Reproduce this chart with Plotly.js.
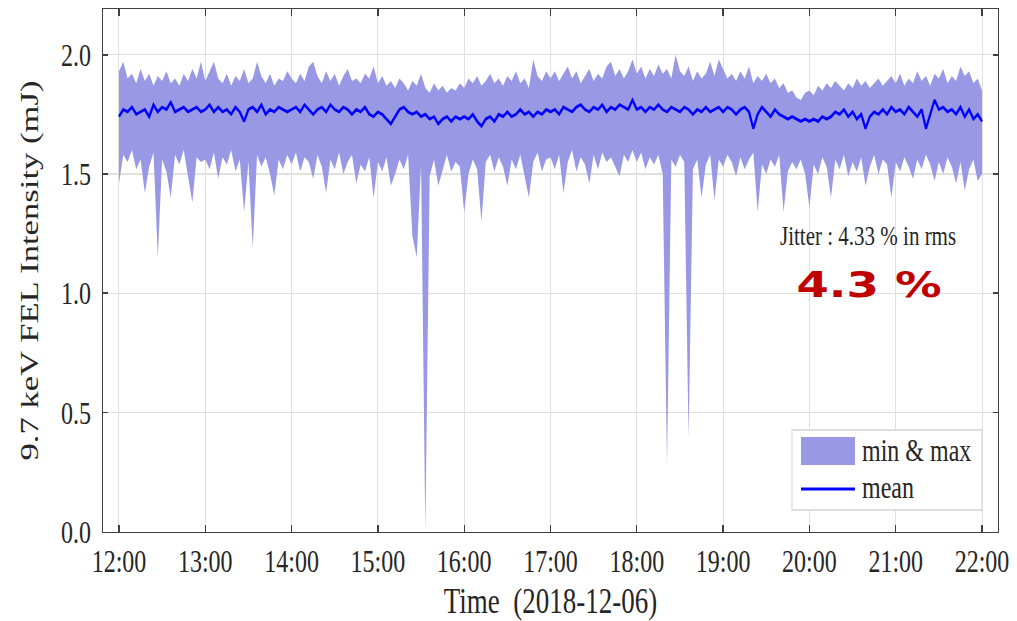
<!DOCTYPE html>
<html>
<head>
<meta charset="utf-8">
<script src="https://cdn.plot.ly/plotly-3.0.1.min.js"></script>
<style>
html,body{margin:0;padding:0;background:#fff;overflow:hidden;}
#wrap{width:1017px;height:621px;overflow:hidden;}
#chart{width:1017px;height:466px;transform:scale(1,1.33262);transform-origin:0 0;}
g.annotation[data-index="1"] text.annotation-text{transform-box:fill-box;transform-origin:center;transform:scale(1.37,0.8);}
</style>
</head>
<body>
<div id="wrap"><div id="chart"></div></div>
<script>
// Sampling grid: 2018-12-06 12:00 to 22:00, one sample every 3 minutes (201 samples)
const startTime = "2018-12-06T12:00:00";
const stepMinutes = 3;

// Maximum intensity per interval (mJ)
const maxV = [
1.93,1.97,1.90,1.92,1.88,1.94,1.89,1.92,1.87,1.91,1.89,1.93,1.88,1.90,1.87,1.92,1.89,1.94,1.90,1.97,
1.89,1.93,1.97,1.90,1.88,1.92,1.87,1.91,1.89,1.94,1.88,1.90,1.97,1.91,1.88,1.92,1.87,1.90,1.89,1.93,
1.90,1.88,1.92,1.89,1.95,1.97,1.91,1.88,1.93,1.89,1.92,1.87,1.91,1.94,1.89,1.90,1.88,1.92,1.90,1.95,
1.88,1.91,1.87,1.89,1.86,1.90,1.88,1.85,1.89,1.87,1.92,1.86,1.84,1.88,1.85,1.87,1.84,1.86,1.85,1.88,
1.86,1.90,1.88,1.91,1.87,1.89,1.92,1.88,1.90,1.87,1.91,1.89,1.93,1.88,1.90,1.86,1.98,1.91,1.89,1.93,
1.90,1.93,1.89,1.92,1.95,1.90,1.93,1.88,1.91,1.94,1.89,1.92,1.90,1.95,1.97,1.91,1.94,1.90,1.93,1.98,
1.92,1.95,1.90,1.94,1.91,1.96,1.92,1.94,1.90,2.00,1.93,1.91,1.95,1.89,1.93,1.90,1.92,1.97,1.91,1.98,
1.94,1.90,1.92,1.89,1.93,1.90,1.95,1.88,1.91,1.89,1.92,1.88,1.90,1.86,1.88,1.84,1.85,1.82,1.81,1.84,
1.85,1.83,1.87,1.85,1.88,1.86,1.89,1.87,1.85,1.88,1.86,1.90,1.87,1.89,1.86,1.88,1.90,1.87,1.89,1.91,
1.88,1.92,1.87,1.90,1.88,1.93,1.89,1.91,1.87,1.92,1.90,1.94,1.88,1.91,1.89,1.95,1.91,1.93,1.88,1.90,
1.85];

// Mean intensity per interval (mJ)
const meanV = [
1.74,1.77,1.76,1.78,1.75,1.76,1.77,1.74,1.79,1.76,1.78,1.77,1.80,1.76,1.77,1.78,1.76,1.77,1.78,1.76,
1.77,1.79,1.76,1.78,1.76,1.77,1.75,1.78,1.76,1.72,1.77,1.78,1.76,1.79,1.75,1.77,1.76,1.78,1.77,1.76,
1.77,1.78,1.76,1.79,1.77,1.75,1.77,1.78,1.76,1.79,1.77,1.76,1.78,1.77,1.75,1.77,1.76,1.78,1.75,1.74,
1.76,1.75,1.73,1.71,1.74,1.77,1.78,1.76,1.75,1.76,1.74,1.75,1.73,1.74,1.71,1.73,1.74,1.72,1.74,1.73,
1.74,1.73,1.75,1.72,1.70,1.73,1.74,1.72,1.75,1.74,1.76,1.74,1.75,1.77,1.75,1.76,1.74,1.76,1.75,1.77,
1.76,1.77,1.75,1.78,1.77,1.76,1.78,1.79,1.77,1.76,1.78,1.77,1.79,1.76,1.78,1.77,1.79,1.78,1.77,1.81,
1.77,1.78,1.76,1.78,1.77,1.79,1.77,1.76,1.78,1.77,1.76,1.78,1.77,1.75,1.77,1.76,1.78,1.76,1.77,1.78,
1.76,1.78,1.77,1.75,1.77,1.78,1.76,1.69,1.75,1.78,1.76,1.74,1.77,1.75,1.74,1.73,1.74,1.73,1.72,1.73,
1.72,1.73,1.72,1.74,1.73,1.74,1.76,1.75,1.77,1.74,1.76,1.73,1.75,1.69,1.74,1.76,1.75,1.77,1.75,1.78,
1.76,1.77,1.75,1.78,1.76,1.74,1.77,1.69,1.75,1.81,1.77,1.78,1.76,1.77,1.75,1.78,1.74,1.77,1.73,1.75,
1.72];

// Minimum intensity per interval (mJ)
const minV = [
1.46,1.58,1.55,1.60,1.52,1.56,1.42,1.53,1.59,1.15,1.56,1.51,1.40,1.58,1.54,1.60,1.49,1.38,1.57,1.55,
1.56,1.52,1.59,1.48,1.57,1.54,1.60,1.51,1.56,1.34,1.55,1.19,1.58,1.53,1.57,1.50,1.41,1.56,1.52,1.58,
1.54,1.59,1.51,1.57,1.55,1.48,1.58,1.53,1.42,1.56,1.52,1.59,1.50,1.55,1.58,1.46,1.54,1.51,1.57,1.40,
1.55,1.51,1.57,1.45,1.50,1.56,1.52,1.58,1.24,1.15,1.54,0.00,1.49,1.56,1.45,1.52,1.58,1.51,1.55,1.53,
1.34,1.50,1.56,1.52,1.30,1.55,1.58,1.51,1.57,1.53,1.45,1.56,1.52,1.58,1.49,1.40,1.55,1.59,1.51,1.56,
1.57,1.52,1.58,1.42,1.55,1.60,1.51,1.57,1.54,1.46,1.58,1.52,1.59,1.55,1.57,1.53,1.49,1.58,1.55,1.60,
1.55,1.59,1.52,1.57,1.54,1.58,1.50,0.28,1.56,1.53,1.58,1.55,0.39,1.52,1.56,1.40,1.54,1.58,1.39,1.56,
1.53,1.58,1.55,1.49,1.57,1.52,1.56,1.59,1.34,1.54,1.50,1.56,1.53,1.58,1.34,1.51,1.55,1.52,1.56,1.50,
1.36,1.54,1.50,1.57,1.53,1.40,1.56,1.52,1.58,1.49,1.55,1.51,1.57,1.45,1.53,1.58,1.50,1.56,1.54,1.40,
1.55,1.51,1.57,1.53,1.48,1.56,1.52,1.58,1.54,1.47,1.55,1.50,1.57,1.53,1.46,1.55,1.43,1.52,1.56,1.47,
1.50];

const xTickVals = ["12:00","13:00","14:00","15:00","16:00","17:00","18:00","19:00","20:00","21:00","22:00"];
const yTickVals = [0, 0.5, 1.0, 1.5, 2.0];
const legendNames = ["min & max", "mean"];
const jitterText = "Jitter : 4.33 % in rms";
const jitterBig = "4.3 %";

function pad(n){return (n<10?"0":"")+n;}
const t0 = new Date(startTime + "Z").getTime();
const times = meanV.map(function(_, i){
  const d = new Date(t0 + i*stepMinutes*60000);
  return "2018-12-06 " + pad(d.getUTCHours()) + ":" + pad(d.getUTCMinutes()) + ":00";
});
const tickv = xTickVals.map(function(s){return "2018-12-06 " + s + ":00";});

const serif = "Liberation Serif, Times New Roman, serif";
const txt = "#262626";
const bandColor = "rgb(152,152,228)";
const meanColor = "rgb(0,0,255)";

const traces = [
  {x: times, y: maxV, type: "scatter", mode: "lines", line: {width: 0, color: bandColor},
   showlegend: false, hoverinfo: "skip"},
  {x: times, y: minV, type: "scatter", mode: "lines", line: {width: 0, color: bandColor},
   fill: "tonexty", fillcolor: bandColor, name: legendNames[0], showlegend: false},
  {x: times, y: meanV, type: "scatter", mode: "lines", line: {width: 2.2, color: meanColor},
   name: legendNames[1], showlegend: false}
];

const axisCommon = {
  showline: true, linecolor: "#404040", linewidth: 1.3, mirror: "ticks",
  ticks: "inside", ticklen: 5, tickwidth: 1.3, tickcolor: "#404040",
  showgrid: true, gridcolor: "#e0e0e0", gridwidth: 1, zeroline: false,
  tickfont: {family: serif, size: 24, color: txt}
};

// legend box (drawn in paper units of the plot area)
const lg = {x0: 0.7698, x1: 0.9821, y0: 0.0416, y1: 0.1947,
            sx0: 0.7799, sx1: 0.8402, sy0: 0.1277, sy1: 0.1813, ly: 0.0818,
            tx: 0.8458, ty0: 0.1545, ty1: 0.0837};

const layout = {
  width: 1017, height: 466,
  margin: {l: 103, r: 19, t: 7, b: 67},
  paper_bgcolor: "#fff", plot_bgcolor: "#fff",
  showlegend: false,
  xaxis: Object.assign({}, axisCommon, {
    type: "date",
    range: ["2018-12-06 11:48:54", "2018-12-06 22:11:06"],
    tickvals: tickv, ticktext: xTickVals,
    ticklabelstandoff: 0,
    title: {text: "Time  (2018-12-06)", font: {family: serif, size: 27, color: txt}, standoff: 18}
  }),
  yaxis: Object.assign({}, axisCommon, {
    range: [0, 2.19],
    tickvals: yTickVals, tickformat: ".1f",
    ticklabelstandoff: 6,
    title: {text: "9.7 keV FEL Intensity (mJ)", font: {family: serif, size: 26, color: txt}, standoff: 14}
  }),
  shapes: [
    {type: "rect", xref: "paper", yref: "paper", x0: lg.x0, x1: lg.x1, y0: lg.y0, y1: lg.y1,
     fillcolor: "#fff", line: {color: "#d4d4d4", width: 1}},
    {type: "rect", xref: "paper", yref: "paper", x0: lg.sx0, x1: lg.sx1, y0: lg.sy0, y1: lg.sy1,
     fillcolor: bandColor, line: {width: 0}},
    {type: "line", xref: "paper", yref: "paper", x0: lg.sx0, x1: lg.sx1, y0: lg.ly, y1: lg.ly,
     line: {color: meanColor, width: 2.2}}
  ],
  annotations: [
    {xref: "paper", yref: "paper", x: 0.855, y: 0.566, xanchor: "center", yanchor: "middle",
     text: jitterText, showarrow: false, font: {family: serif, size: 21, color: txt}},
    {xref: "paper", yref: "paper", x: 0.856, y: 0.474, xanchor: "center", yanchor: "middle",
     text: jitterBig, showarrow: false,
     font: {family: "DejaVu Sans, Verdana, sans-serif", size: 34, color: "rgb(192,0,0)", weight: "bold"}},
    {xref: "paper", yref: "paper", x: lg.tx, y: lg.ty0, xanchor: "left", yanchor: "middle",
     text: legendNames[0], showarrow: false, font: {family: serif, size: 24, color: txt}},
    {xref: "paper", yref: "paper", x: lg.tx, y: lg.ty1, xanchor: "left", yanchor: "middle",
     text: legendNames[1], showarrow: false, font: {family: serif, size: 24, color: txt}}
  ]
};

Plotly.newPlot("chart", traces, layout, {displayModeBar: false, staticPlot: true});
</script>
</body>
</html>
